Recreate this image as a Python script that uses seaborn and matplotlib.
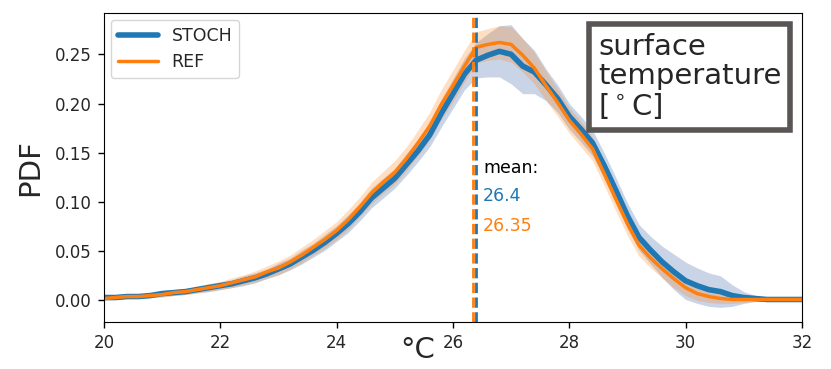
import numpy as np
import pandas as pd
import matplotlib
matplotlib.use("Agg")
import matplotlib.pyplot as plt
import seaborn as sns

# temperature grid (deg C), 0.2 spacing
temp = np.round(np.arange(20.0, 32.01, 0.2), 1)

stoch = [0.003, 0.003, 0.004, 0.004, 0.005, 0.007,
         0.008, 0.009, 0.011, 0.013, 0.015,
         0.017, 0.020, 0.023, 0.027, 0.032,
         0.037, 0.044, 0.051, 0.059, 0.068,
         0.078, 0.090, 0.104, 0.114, 0.124,
         0.138, 0.152, 0.168, 0.190, 0.210,
         0.230, 0.244, 0.249, 0.253, 0.250,
         0.238, 0.232, 0.219, 0.205, 0.187,
         0.174, 0.160, 0.137, 0.112, 0.086,
         0.064, 0.051, 0.039, 0.029, 0.020,
         0.015, 0.011, 0.009, 0.005, 0.003,
         0.002, 0.001, 0.001, 0.001, 0.001]

ref = [0.002, 0.003, 0.004, 0.004, 0.005, 0.006,
       0.008, 0.009, 0.011, 0.013, 0.015,
       0.018, 0.021, 0.024, 0.029, 0.033,
       0.039, 0.046, 0.054, 0.062, 0.071,
       0.082, 0.095, 0.109, 0.120, 0.130,
       0.144, 0.160, 0.177, 0.199, 0.218,
       0.238, 0.257, 0.260, 0.262, 0.260,
       0.249, 0.236, 0.218, 0.201, 0.183,
       0.169, 0.154, 0.129, 0.103, 0.078,
       0.056, 0.043, 0.032, 0.022, 0.013,
       0.007, 0.004, 0.002, 0.001, 0.001,
       0.001, 0.001, 0.001, 0.001, 0.001]

stoch_spread = [0.002, 0.002, 0.002, 0.002, 0.002, 0.003,
                0.003, 0.003, 0.003, 0.004, 0.004,
                0.004, 0.005, 0.005, 0.005, 0.006,
                0.006, 0.007, 0.007, 0.008, 0.008,
                0.009, 0.009, 0.010, 0.010, 0.010,
                0.011, 0.011, 0.012, 0.014, 0.015,
                0.016, 0.018, 0.022, 0.026, 0.030,
                0.028, 0.022, 0.016, 0.014, 0.013,
                0.013, 0.013, 0.013, 0.013, 0.013,
                0.013, 0.014, 0.016, 0.018, 0.019,
                0.018, 0.017, 0.016, 0.011, 0.006,
                0.003, 0.002, 0.001, 0.001, 0.001]

ref_spread = [0.002, 0.002, 0.002, 0.002, 0.002, 0.003,
              0.003, 0.003, 0.004, 0.004, 0.004,
              0.005, 0.005, 0.006, 0.006, 0.007,
              0.007, 0.008, 0.008, 0.009, 0.009,
              0.010, 0.010, 0.011, 0.011, 0.012,
              0.012, 0.013, 0.014, 0.015, 0.016,
              0.016, 0.016, 0.016, 0.017, 0.018,
              0.017, 0.016, 0.015, 0.014, 0.013,
              0.013, 0.012, 0.012, 0.012, 0.012,
              0.011, 0.010, 0.009, 0.009, 0.008,
              0.007, 0.006, 0.005, 0.004, 0.003,
              0.002, 0.001, 0.001, 0.001, 0.001]

mean_stoch = 26.4
mean_ref = 26.35

blue = "#1f77b4"
orange = "#ff7f0e"

sns.set_style("ticks")
plt.rcParams['font.family'] = ['DejaVu Sans']

df = pd.DataFrame({"temp": temp, "STOCH": stoch, "REF": ref})

fig, ax = plt.subplots(figsize=(8.31, 3.69), dpi=100)
fig.subplots_adjust(left=0.125, right=0.965, bottom=0.127, top=0.965)

s = np.array(stoch)
r = np.array(ref)
ax.fill_between(temp, s - np.array(stoch_spread), s + np.array(stoch_spread),
                color="#4c72b0", alpha=0.3, lw=0)
ax.fill_between(temp, r - np.array(ref_spread), r + np.array(ref_spread),
                color=orange, alpha=0.25, lw=0)

sns.lineplot(data=df, x="temp", y="STOCH", color=blue, lw=4, label="STOCH", ax=ax)
sns.lineplot(data=df, x="temp", y="REF", color=orange, lw=2.5, label="REF", ax=ax)

ax.axvline(mean_ref, color=orange, ls="--", lw=2)
ax.axvline(mean_stoch, color=blue, ls="--", lw=2)

ax.text(26.52, 0.135, "mean:", color="black", fontsize=12.5, va="center")
ax.text(26.52, 0.106, "26.4", color=blue, fontsize=12.5, va="center")
ax.text(26.52, 0.076, "26.35", color=orange, fontsize=12.5, va="center")

ax.text(0.708, 0.935, "surface\ntemperature\n[$^\\circ$C]", transform=ax.transAxes,
        fontsize=21, va="top", ha="left", linespacing=1.05,
        bbox=dict(boxstyle="square,pad=0.3", fc="white", ec="#5a5555", lw=4))

ax.set_xlim(20, 32)
ax.set_ylim(-0.022, 0.292)
ax.set_xticks([20, 22, 24, 26, 28, 30, 32])
ax.set_yticks([0.0, 0.05, 0.10, 0.15, 0.20, 0.25])
ax.set_yticklabels(["0.00", "0.05", "0.10", "0.15", "0.20", "0.25"])
ax.tick_params(labelsize=12, color="black", width=1, length=4.5, pad=4)
for sp in ax.spines.values():
    sp.set_color("black")

ax.set_xlabel("°C", fontsize=21)
ax.xaxis.set_label_coords(0.45, -0.045)
ax.xaxis.label.set_va("top")
ax.set_ylabel("PDF", fontsize=21, labelpad=8)

ax.legend(loc="upper left", fontsize=12.5, borderaxespad=0.4, handlelength=2.3)

fig.savefig("out.png", dpi=100)
